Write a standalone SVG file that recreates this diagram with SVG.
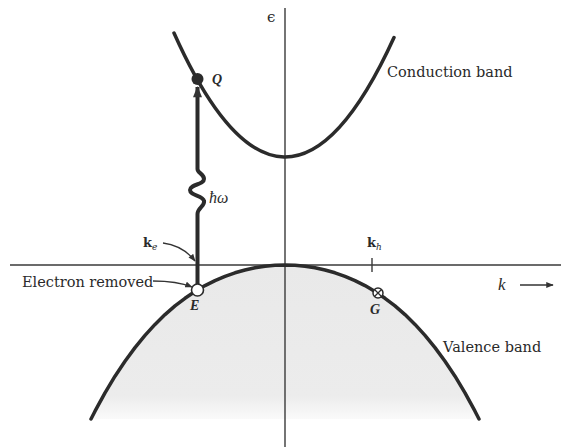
<svg xmlns="http://www.w3.org/2000/svg" width="561" height="447" viewBox="0 0 561 447">
<style>
.band{fill:none;stroke:#2b2b2b;stroke-width:3.5;stroke-linecap:round}
.axis{fill:none;stroke:#3a3a3a;stroke-width:1.4}
.lead{fill:none;stroke:#333;stroke-width:1.3}
.lbl{font-family:"DejaVu Serif","Liberation Serif",serif;font-size:14.5px;fill:#2a2a2a}
.it{font-family:"Liberation Serif","DejaVu Serif",serif;font-style:italic;font-weight:bold;fill:#2a2a2a}
</style>
<defs>
<marker id="ah" viewBox="0 0 10 8" refX="9" refY="4" markerWidth="8" markerHeight="6" markerUnits="userSpaceOnUse" orient="auto"><path d="M0,0 L10,4 L0,8 Z" fill="#333"/></marker>
<marker id="ahBig" viewBox="0 0 10 8" refX="9" refY="4" markerWidth="13" markerHeight="9" markerUnits="userSpaceOnUse" orient="auto"><path d="M0,0 L10,4 L0,8 Z" fill="#333"/></marker>
<linearGradient id="shade" x1="0" y1="0" x2="0" y2="1">
<stop offset="0" stop-color="#e9e9e9"/>
<stop offset="0.85" stop-color="#ececec"/>
<stop offset="1" stop-color="#fafafa"/>
</linearGradient>
</defs>

<g id="filled-states">
<path d="M91,419 L95,411.2 L105,392.9 L115,376.2 L125,361.2 L135,347.6 L145,335.4 L155,324.4 L165,314.6 L175,305.9 L185,298.3 L195,291.5 L205,285.6 L215,280.6 L225,276.3 L235,272.8 L245,270 L255,267.8 L265,266.2 L275,265.3 L285,265 L295,265.3 L305,266.2 L315,267.8 L325,270 L335,272.8 L345,276.3 L355,280.6 L365,285.6 L375,291.5 L385,298.3 L395,305.9 L405,314.6 L415,324.4 L425,335.4 L435,347.6 L445,361.2 L455,376.2 L465,392.9 L475,411.2 L479,419 Z" fill="url(#shade)" stroke="none"/>
</g>

<g id="axes">
<line class="axis" x1="285" y1="8" x2="285" y2="447"/>
<line class="axis" x1="10" y1="265" x2="561" y2="265"/>
<text x="267" y="22" style="font-family:'DejaVu Serif',serif;font-size:15px;fill:#2a2a2a">ϵ</text>
</g>

<g id="conduction-band">
<path class="band" d="M174,33 Q284,278.7 394,37.5"/>
<text class="lbl" x="387" y="77">Conduction band</text>
</g>

<g id="valence-band">
<path class="band" d="M91,419 L95,411.2 L105,392.9 L115,376.2 L125,361.2 L135,347.6 L145,335.4 L155,324.4 L165,314.6 L175,305.9 L185,298.3 L195,291.5 L205,285.6 L215,280.6 L225,276.3 L235,272.8 L245,270 L255,267.8 L265,266.2 L275,265.3 L285,265 L295,265.3 L305,266.2 L315,267.8 L325,270 L335,272.8 L345,276.3 L355,280.6 L365,285.6 L375,291.5 L385,298.3 L395,305.9 L405,314.6 L415,324.4 L425,335.4 L435,347.6 L445,361.2 L455,376.2 L465,392.9 L475,411.2 L479,419" stroke-linejoin="round"/>
<text class="lbl" x="443" y="352">Valence band</text>
</g>

<g id="connectors">
<path d="M197.5,284 L197.5,214 C197.5,208 205,206 204,201 C203,195 190,196 190,190 C190,184 204,185 204,179 C204,174 197.5,173 197.5,169 L197.5,87" fill="none" stroke="#2b2b2b" stroke-width="4" marker-end="url(#ahBig)"/>
<path class="lead" d="M163,243 C178,245 188,252 195,261" marker-end="url(#ah)"/>
<path class="lead" d="M153,281 C170,281 182,283 192,287" marker-end="url(#ah)"/>
<line class="lead" x1="520" y1="285" x2="553" y2="285" stroke-width="1.6" marker-end="url(#ah)"/>
<line class="axis" x1="372" y1="258" x2="372" y2="272"/>
</g>

<g id="Q">
<circle cx="197.5" cy="79" r="6" fill="#2b2b2b"/>
<text class="it" x="212" y="84" font-size="14">Q</text>
</g>

<g id="photon">
<text x="209" y="203" style="font-family:'Liberation Serif',serif;font-style:italic;font-size:16px;fill:#2a2a2a">ħω</text>
</g>

<g id="E">
<circle cx="197.5" cy="290" r="6" fill="#fff" stroke="#2b2b2b" stroke-width="1.6"/>
<text class="it" x="190" y="310" font-size="14">E</text>
<text class="lbl" x="22" y="287">Electron removed</text>
<text x="143" y="247" style="font-family:'DejaVu Serif',serif;font-weight:bold;font-size:13px;fill:#2a2a2a">k<tspan font-size="9" dy="3" font-style="italic" font-weight="normal">e</tspan></text>
</g>

<g id="G">
<circle cx="378" cy="293" r="5" fill="#fff" stroke="#2b2b2b" stroke-width="1.5"/>
<path d="M374.5,289.5 L381.5,296.5 M381.5,289.5 L374.5,296.5" stroke="#2b2b2b" stroke-width="1.3"/>
<text class="it" x="370" y="314" font-size="14">G</text>
<text x="367" y="247" style="font-family:'DejaVu Serif',serif;font-weight:bold;font-size:13px;fill:#2a2a2a">k<tspan font-size="9" dy="3" font-style="italic" font-weight="normal">h</tspan></text>
</g>

<g id="k-axis-label">
<text x="498" y="290" style="font-family:'Liberation Serif',serif;font-style:italic;font-size:17px;fill:#2a2a2a">k</text>
</g>
</svg>
